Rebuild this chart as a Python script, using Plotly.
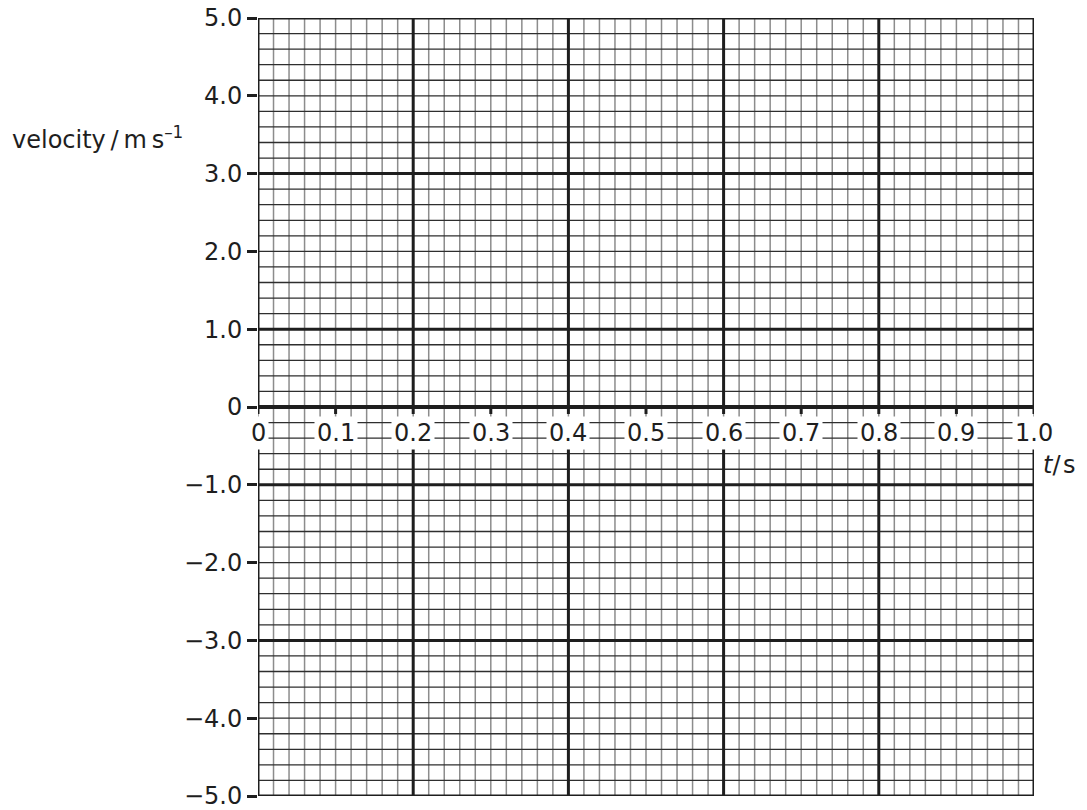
import plotly.graph_objects as go

# ---- data / axis definitions ----
x_range = [0.0, 1.0]
y_range = [-5.0, 5.0]
x_tick_vals = [0.0, 0.1, 0.2, 0.3, 0.4, 0.5, 0.6, 0.7, 0.8, 0.9, 1.0]
x_tick_text = ["0", "0.1", "0.2", "0.3", "0.4", "0.5", "0.6", "0.7", "0.8", "0.9", "1.0"]
y_tick_vals = [5, 4, 3, 2, 1, 0, -1, -2, -3, -4, -5]
y_tick_text = ["5.0", "4.0", "3.0", "2.0", "1.0", "0", "\u22121.0", "\u22122.0", "\u22123.0", "\u22124.0", "\u22125.0"]
x_minor_step = 0.02
y_minor_step = 0.2
x_bold = [0.0, 0.2, 0.4, 0.6, 0.8, 1.0]
y_bold = [5, 3, 1, -1, -3, -5]
band_bottom = -0.53   # bold verticals resume below the label band
x_title = "<i>t</i>/\u200as"
y_title = "velocity\u2009/\u2009m\u2009s<sup>\u20131</sup>"

FONT = "DejaVu Sans, Liberation Sans, Arial, sans-serif"
INK = "#1e1e1e"

n_x = int(round((x_range[1] - x_range[0]) / x_minor_step))
n_y = int(round((y_range[1] - y_range[0]) / y_minor_step))
xs_minor = [round(x_range[0] + i * x_minor_step, 4) for i in range(n_x + 1)]
ys_minor = [round(y_range[0] + i * y_minor_step, 4) for i in range(n_y + 1)]

fig = go.Figure()

def seg_trace(segs, color, width):
    xx, yy = [], []
    for (x0, y0, x1, y1) in segs:
        xx += [x0, x1, None]
        yy += [y0, y1, None]
    return go.Scatter(x=xx, y=yy, mode="lines", line=dict(color=color, width=width),
                      hoverinfo="skip", showlegend=False, cliponaxis=False)

# minor vertical lines (full height)
fig.add_trace(seg_trace([(x, y_range[0], x, y_range[1]) for x in xs_minor], "#8c8c8c", 1.5))
# minor horizontal lines
fig.add_trace(seg_trace([(x_range[0], y, x_range[1], y) for y in ys_minor], "#2e2e2e", 1.3))
# bold horizontal lines
fig.add_trace(seg_trace([(x_range[0], y, x_range[1], y) for y in y_bold], INK, 3))
# bold vertical lines, interrupted by the label band
bv = []
for x in x_bold:
    bv.append((x, 0, x, y_range[1]))
    bv.append((x, y_range[0], x, band_bottom))
fig.add_trace(seg_trace(bv, INK, 3))
# time axis at v = 0
fig.add_trace(seg_trace([(x_range[0], 0, x_range[1], 0)], INK, 4))
# tick marks below the time axis
fig.add_trace(seg_trace([(x, 0, x, -0.09) for x in x_tick_vals], INK, 3))

annotations = []
for xv, txt in zip(x_tick_vals, x_tick_text):
    annotations.append(dict(x=xv, y=-0.33, xref="x", yref="y", text=txt, showarrow=False,
                            xanchor="center", yanchor="middle", bgcolor="white", borderpad=2,
                            font=dict(family=FONT, size=24, color=INK)))
annotations.append(dict(x=1.0095, y=0.4254, xref="paper", yref="paper", text=x_title,
                        showarrow=False, xanchor="left", yanchor="middle",
                        font=dict(family=FONT, size=24, color=INK)))
annotations.append(dict(x=-0.3196, y=0.8458, xref="paper", yref="paper", text=y_title,
                        showarrow=False, xanchor="left", yanchor="middle",
                        font=dict(family=FONT, size=24, color=INK)))

fig.update_layout(
    width=1087, height=810,
    margin=dict(l=258, r=53, t=18, b=14, autoexpand=False),
    paper_bgcolor="white", plot_bgcolor="white",
    showlegend=False,
    annotations=annotations,
    xaxis=dict(range=x_range, showgrid=False, zeroline=False, showticklabels=False,
               ticks="", showline=False, fixedrange=True, automargin=False),
    yaxis=dict(range=y_range, showgrid=False, zeroline=False, showline=False,
               tickmode="array", tickvals=y_tick_vals, ticktext=y_tick_text,
               ticks="outside", ticklen=10, tickwidth=3, tickcolor=INK, automargin=False,
               ticklabeloverflow="allow",
               tickfont=dict(family=FONT, size=24, color=INK), fixedrange=True),
)

# remove the browser's default 8 px body margin so the 1087x810 figure fills the window
fig.write_html("out.html", config={"displayModeBar": False, "staticPlot": True},
               post_script="document.body.style.margin='0px';")
